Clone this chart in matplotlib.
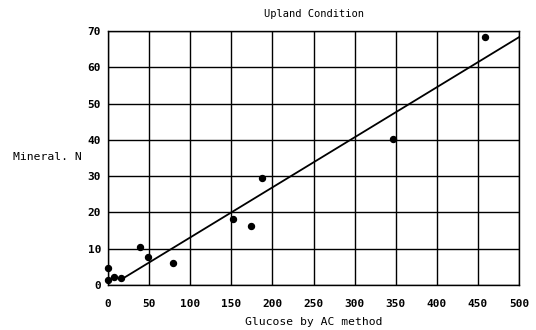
import matplotlib
matplotlib.use("Agg")
import matplotlib.pyplot as plt
import numpy as np

# Data
glucose = [0, 0, 7, 16, 39, 49, 79, 152, 174, 187, 347, 459]
mineral_n = [4.6, 1.4, 2.3, 1.8, 10.5, 7.8, 6.0, 18.2, 16.2, 29.5, 40.2, 68.4]

fit_x = [15, 500]
fit_slope = 0.138
fit_intercept = -0.7

x_ticks = [0, 50, 100, 150, 200, 250, 300, 350, 400, 450, 500]
y_ticks = [0, 10, 20, 30, 40, 50, 60, 70]

title = "Upland Condition"
xlabel = "Glucose by AC method"
ylabel = "Mineral. N"

fig = plt.figure(figsize=(5.36, 3.30), dpi=100)
ax = fig.add_axes([108/536, 1-285/330, (519-108)/536, (285-31)/330])

ax.set_xlim(0, 500)
ax.set_ylim(0, 70)
ax.set_xticks(x_ticks)
ax.set_yticks(y_ticks)
ax.grid(True, color="black", linewidth=1.0)
ax.set_axisbelow(True)
for s in ax.spines.values():
    s.set_linewidth(1.0)
ax.tick_params(axis="x", length=0, pad=10)
ax.tick_params(axis="y", length=0, pad=5)
tick_font = dict(family="DejaVu Sans Mono", weight="bold", size=8)
ax.set_xticklabels([str(v) for v in x_ticks], fontdict=tick_font)
ax.set_yticklabels([str(v) for v in y_ticks], fontdict=tick_font)

fx = np.array(fit_x, dtype=float)
ax.plot(fx, fit_slope * fx + fit_intercept, color="black", linewidth=1.3, clip_on=False)
ax.plot(glucose, mineral_n, "o", color="black", markersize=4.3, clip_on=False)

ax.set_title(title, fontdict=dict(family="DejaVu Sans Mono", size=7.5), pad=10)
ax.set_xlabel(xlabel, fontdict=dict(family="DejaVu Sans Mono", size=8.2), labelpad=6)
fig.text(13/536, 1-157/330, ylabel, ha="left", va="center",
         family="DejaVu Sans Mono", size=8.2)

fig.savefig("out.png", dpi=100, facecolor="white")
